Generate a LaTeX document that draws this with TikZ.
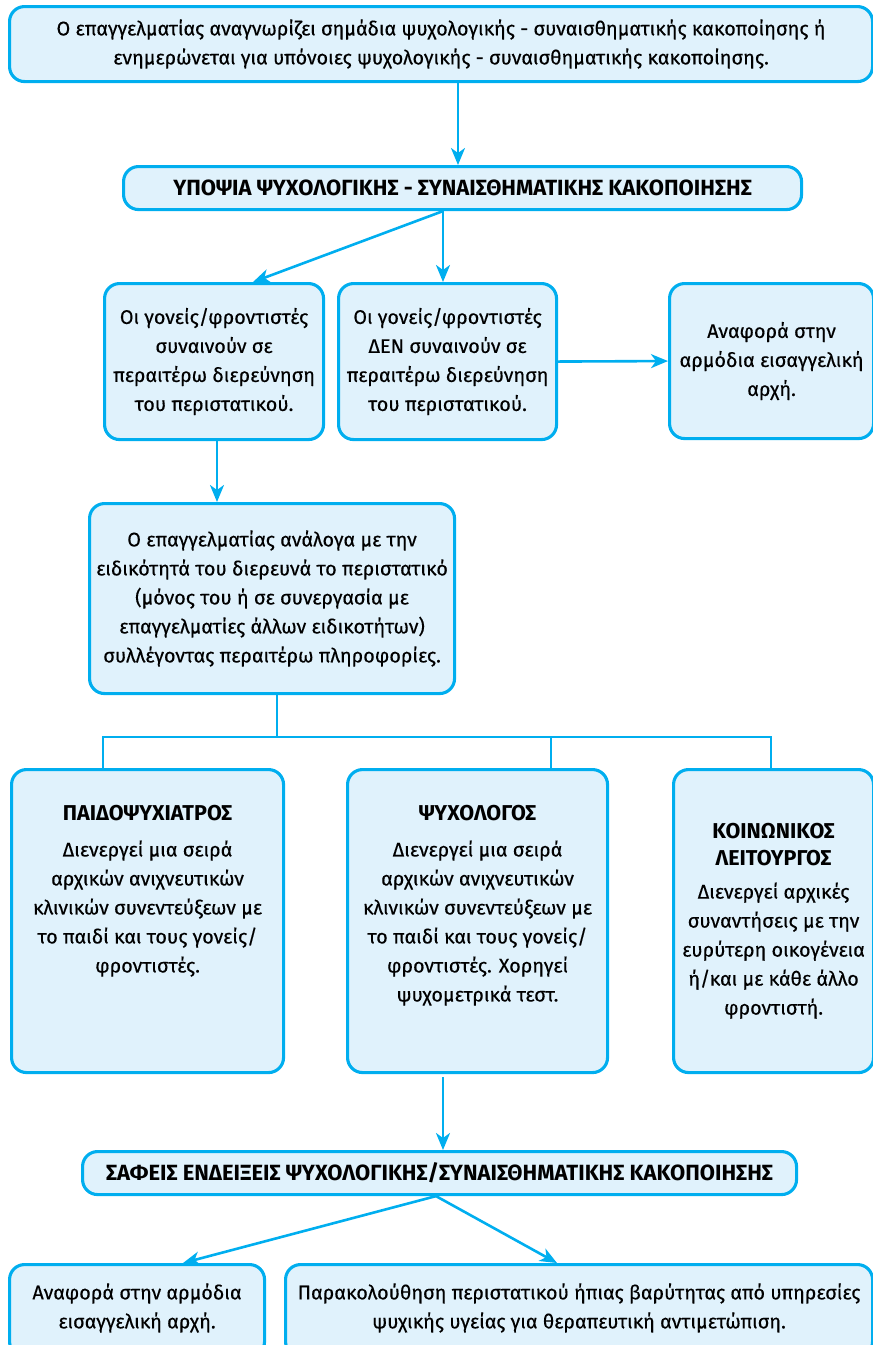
\documentclass[tikz,border=0pt]{standalone}
\usepackage{fontspec}
\setmainfont{Fira Sans}[UprightFeatures={FakeBold=0.35}]
\usetikzlibrary{arrows.meta,calc}
\definecolor{cyanb}{HTML}{00AEEF}
\definecolor{fillb}{HTML}{E0F2FC}
\tikzset{
  box/.style={draw=cyanb, fill=fillb, line width=3.1pt, rounded corners=15pt, inner sep=0pt, anchor=north west, align=center, font=\fontsize{19.8}{29}\selectfont},
  txt/.style={align=center, inner sep=0pt, font=\fontsize{19.8}{29}\selectfont},
  ttl/.style={font=\bfseries\fontsize{22}{29}\selectfont},
  conn/.style={draw=cyanb, line width=2.6pt},
  arr/.style={conn, -{Stealth[length=17pt,width=14pt,inset=5pt]}},
}
\newcommand{\bt}[1]{{\bfseries\fontsize{21.5}{27}\selectfont #1}}
\begin{document}
\begin{tikzpicture}[x=1pt,y=-1pt]
\useasboundingbox (0,0) rectangle (873,1345);
% boxes
\node[box, minimum width=863, minimum height=75] (top) at (8,5) {Ο επαγγελματίας αναγνωρίζει σημάδια ψυχολογικής - συναισθηματικής κακοποίησης ή\\ ενημερώνεται για υπόνοιες ψυχολογικής - συναισθηματικής κακοποίησης.};
\node[box, ttl, minimum width=678, minimum height=43] (b2) at (122,165) {ΥΠΟΨΙΑ ΨΥΧΟΛΟΓΙΚΗΣ - ΣΥΝΑΙΣΘΗΜΑΤΙΚΗΣ ΚΑΚΟΠΟΙΗΣΗΣ};
\node[box, minimum width=219, minimum height=156] (b3a) at (103,282) {Οι γονείς/φροντιστές\\ συναινούν σε\\ περαιτέρω διερεύνηση\\ του περιστατικού.};
\node[box, minimum width=218, minimum height=156] (b3b) at (337,282) {Οι γονείς/φροντιστές\\ ΔΕΝ συναινούν σε\\ περαιτέρω διερεύνηση\\ του περιστατικού.};
\node[box, minimum width=204, minimum height=155] (b3c) at (668,282) {Αναφορά στην\\ αρμόδια εισαγγελική\\ αρχή.};
\node[box, minimum width=365, minimum height=190] (b4) at (88,502) {Ο επαγγελματίας ανάλογα με την\\ ειδικότητά του διερευνά το περιστατικό\\ (μόνος του ή σε συνεργασία με\\ επαγγελματίες άλλων ειδικοτήτων)\\ συλλέγοντας περαιτέρω πληροφορίες.};
\node[box, minimum width=272, minimum height=303] (b5a) at (10,768) {};
\node[box, minimum width=260, minimum height=303] (b5b) at (346,768) {};
\node[box, minimum width=200, minimum height=303] (b5c) at (672,768) {\bt{ΚΟΙΝΩΝΙΚΟΣ}\\[-2pt] \bt{ΛΕΙΤΟΥΡΓΟΣ}\\[4pt] Διενεργεί αρχικές\\ συναντήσεις με την\\ ευρύτερη οικογένεια\\ ή/και με κάθε άλλο\\ φροντιστή.};
\node[txt, anchor=north] (t5a) at ($(b5a.north)+(0,37)$) {\bt{ΠΑΙΔΟΨΥΧΙΑΤΡΟΣ}\\[7pt] Διενεργεί μια σειρά\\ αρχικών ανιχνευτικών\\ κλινικών συνεντεύξεων με\\ το παιδί και τους γονείς/\\ φροντιστές.};
\node[txt, anchor=north] (t5b) at ($(b5b.north)+(0,37)$) {\bt{ΨΥΧΟΛΟΓΟΣ}\\[7pt] Διενεργεί μια σειρά\\ αρχικών ανιχνευτικών\\ κλινικών συνεντεύξεων με\\ το παιδί και τους γονείς/\\ φροντιστές. Χορηγεί\\ ψυχομετρικά τεστ.};
\node[box, ttl, minimum width=714, minimum height=43] (b6) at (81,1150) {ΣΑΦΕΙΣ ΕΝΔΕΙΞΕΙΣ ΨΥΧΟΛΟΓΙΚΗΣ/ΣΥΝΑΙΣΘΗΜΑΤΙΚΗΣ ΚΑΚΟΠΟΙΗΣΗΣ};
\node[box, minimum width=255, minimum height=92] (b7a) at (8,1263) {};
\node[box, minimum width=587, minimum height=92] (b7b) at (284,1263) {};
\node[txt] (t7a) at ($(b7a.north)+(0,45)$) {Αναφορά στην αρμόδια\\ εισαγγελική αρχή.};
\node[txt] (t7b) at ($(b7b.north)+(0,45)$) {Παρακολούθηση περιστατικού ήπιας βαρύτητας από υπηρεσίες\\ ψυχικής υγείας για θεραπευτική αντιμετώπιση.};
% connectors
\coordinate (s2) at (b2.south -| 443,0);
\coordinate (s6) at (b6.south -| 436,0);
\coordinate (br) at (277,737);
\draw[arr] (top.south -| 458,0) -- (b2.north -| 458,0);
\draw[arr] (s2) -- (b3a.north -| 253,0);
\draw[arr] (s2) -- (b3b.north -| 443,0);
\draw[arr] (b3b.east) -- (b3c.west);
\draw[arr] (b3a.south -| 217,0) -- (b4.north -| 217,0);
\draw[conn] (b4.south -| br) -- (br);
\draw[conn] (b5a.north -| 103,0) -- (103,737) -- (771,737) -- (b5c.north -| 771,0);
\draw[conn] (551,737) -- (b5b.north -| 551,0);
\draw[arr] (443,1077) -- (b6.north -| 443,0);
\draw[arr] (s6) -- (b7a.north -| 183,0);
\draw[arr] (s6) -- (b7b.north -| 557,0);
\end{tikzpicture}
\end{document}
